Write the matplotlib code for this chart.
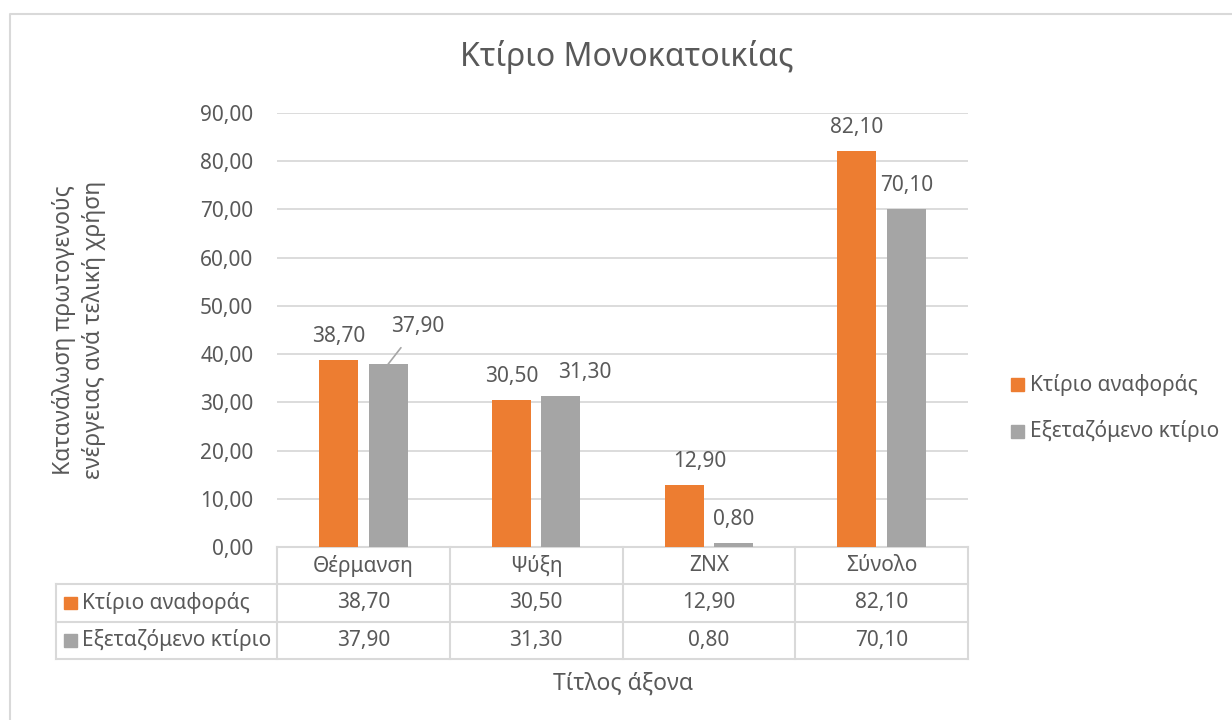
import matplotlib
matplotlib.use("Agg")
import matplotlib.pyplot as plt
from matplotlib.lines import Line2D
from matplotlib.patches import Rectangle
import numpy as np

plt.rcParams['font.family'] = ['Noto Sans', 'DejaVu Sans']

# δεδομένα
categories = ["Θέρμανση", "Ψύξη", "ΖΝΧ", "Σύνολο"]
series_names = ["Κτίριο αναφοράς", "Εξεταζόμενο κτίριο"]
ref_values = [38.70, 30.50, 12.90, 82.10]
test_values = [37.90, 31.30, 0.80, 70.10]
yticks = [0, 10, 20, 30, 40, 50, 60, 70, 80, 90]

ORANGE = "#ED7D31"
GRAY = "#A5A5A5"
TEXT = "#595959"
GRID = "#D9D9D9"
FS = 15


def fmt(v):
    return f"{v:.2f}".replace(".", ",")


W, H = 1232, 720
fig = plt.figure(figsize=(W / 100, H / 100), dpi=100)

# θέση περιοχής σχεδίασης (σε pixel)
left, right, top, bottom = 277, 968, 113, 547
ax = fig.add_axes([left / W, 1 - bottom / H, (right - left) / W, (bottom - top) / H])

x = np.arange(len(categories))
off, bw = 0.143, 0.226
ax.bar(x - off, ref_values, bw, color=ORANGE, zorder=3, label=series_names[0])
ax.bar(x + off, test_values, bw, color=GRAY, zorder=3, label=series_names[1])

ax.set_xlim(-0.5, len(categories) - 0.5)
ax.set_ylim(0, 90)
ax.set_yticks(yticks)
ax.set_yticklabels([fmt(v) for v in yticks], fontsize=FS, color=TEXT)
ax.tick_params(axis='y', length=0, pad=17)
ax.set_xticks([])
for s in ax.spines.values():
    s.set_visible(False)
ax.grid(axis='y', color=GRID, lw=1.3, zorder=0)

# ετικέτες τιμών (μετατόπιση σε points, όπως στο Excel)
ref_shift = [0, 0, 11.5, 0]
test_shift = [0, 17, 0, 0]
for i, v in enumerate(ref_values):
    ax.annotate(fmt(v), (x[i] - off, v), xytext=(ref_shift[i], 17), textcoords='offset points',
                ha='center', va='center', fontsize=FS, color=TEXT)
for i, v in enumerate(test_values):
    if i == 0:
        ax.annotate(fmt(v), (x[i] + off, v), xytext=(21, 27), textcoords='offset points',
                    ha='center', va='center', fontsize=FS, color=TEXT,
                    arrowprops=dict(arrowstyle='-', color="#A6A6A6", lw=1.2,
                                    shrinkA=7, shrinkB=0))
    else:
        ax.annotate(fmt(v), (x[i] + off, v), xytext=(test_shift[i], 17), textcoords='offset points',
                    ha='center', va='center', fontsize=FS, color=TEXT)

# πίνακας δεδομένων
row_h = 37.3 / (bottom - top)
lab_left = (56 - left) / (right - left)
tr = ax.get_xaxis_transform()
lw_t = 1.5
# οριζόντιες γραμμές
ax.plot([-0.5, len(categories) - 0.5], [0, 0], transform=tr, color=GRID, lw=lw_t, clip_on=False)
for k in (1, 2, 3):
    ax.plot([lab_left, 1], [-k * row_h, -k * row_h], transform=ax.transAxes,
            color=GRID, lw=lw_t, clip_on=False)
# κάθετες γραμμές
for b in np.arange(len(categories) + 1) - 0.5:
    ax.plot([b, b], [0, -3 * row_h], transform=tr, color=GRID, lw=lw_t, clip_on=False)
ax.plot([lab_left, lab_left], [-row_h, -3 * row_h], transform=ax.transAxes,
        color=GRID, lw=lw_t, clip_on=False)

for i, c in enumerate(categories):
    ax.text(x[i], -0.5 * row_h, c, transform=tr, ha='center', va='center',
            fontsize=FS, color=TEXT)
    ax.text(x[i], -1.5 * row_h, fmt(ref_values[i]), transform=tr, ha='center',
            va='center', fontsize=FS, color=TEXT)
    ax.text(x[i], -2.5 * row_h, fmt(test_values[i]), transform=tr, ha='center',
            va='center', fontsize=FS, color=TEXT)

px = 1 / (right - left)
py = 1 / (bottom - top)
for r, (name, col) in enumerate(zip(series_names, [ORANGE, GRAY])):
    yc = -(1.5 + r) * row_h
    sq = 12.5
    ax.add_patch(Rectangle((lab_left + 8 * px, yc - sq / 2 * py),
                           sq * px, sq * py, transform=ax.transAxes,
                           color=col, clip_on=False))
    ax.text(lab_left + 26 * px, yc, name, transform=ax.transAxes, ha='left',
            va='center', fontsize=FS, color=TEXT)

# τίτλοι
fig.text(627 / W, 1 - 57 / H, "Κτίριο Μονοκατοικίας", ha='center', va='center',
         fontsize=23, color=TEXT)
fig.text(623 / W, 1 - 684 / H, "Τίτλος άξονα", ha='center', va='center',
         fontsize=16.5, color=TEXT)
fig.text(79 / W, 1 - 330 / H, "Κατανάλωση πρωτογενούς\nενέργειας ανά τελική χρήση",
         ha='center', va='center', rotation=90, fontsize=16.5, color=TEXT,
         linespacing=1.32)

# υπόμνημα
for r, (name, col) in enumerate(zip(series_names, [ORANGE, GRAY])):
    yc = 384.5 + 47 * r
    fig.patches.append(Rectangle((1011 / W, 1 - (yc + 6.5) / H), 13 / W, 13 / H,
                                 transform=fig.transFigure, color=col, figure=fig))
    fig.text(1030 / W, 1 - yc / H, name, ha='left', va='center', fontsize=FS, color=TEXT)

# πλαίσιο γραφήματος
fig.add_artist(Line2D([10 / W, 10 / W, 1], [0, 1 - 14 / H, 1 - 14 / H],
                      transform=fig.transFigure, color=GRID, lw=1.5))

fig.savefig("out.png", dpi=100, facecolor="white")
